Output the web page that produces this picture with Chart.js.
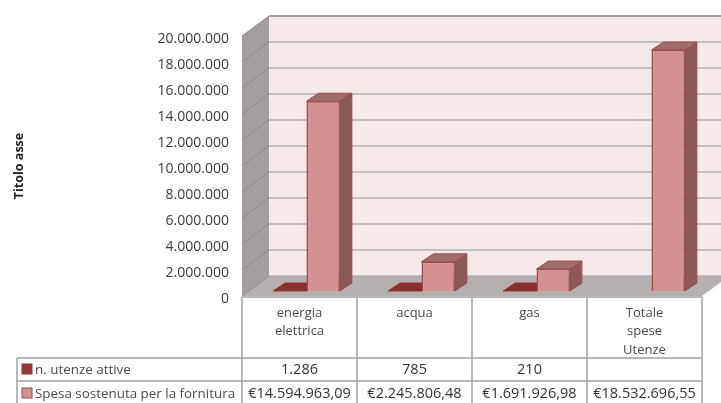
<!DOCTYPE html>
<html lang="it">
<head>
    <meta charset="UTF-8">
    <title>Spese utenze</title>
    <style>
        html, body { margin: 0; padding: 0; background: #fff; overflow: hidden; }
        canvas { display: block; filter: blur(0.4px); }
    </style>
</head>
<body>
<canvas id="chart" width="721" height="403"></canvas>
<script src="https://cdn.jsdelivr.net/npm/chart.js@4/dist/chart.umd.min.js"></script>
<script>
    'use strict';
    var categories = [['energia', 'elettrica'], ['acqua'], ['gas'], ['Totale', 'spese', 'Utenze']];
    var seriesNames = ['n. utenze attive', 'Spesa sostenuta per la fornitura'];
    var utenze = [1286, 785, 210, null];
    var spesa = [14594963.09, 2245806.48, 1691926.98, 18532696.55];
    var axisTitle = 'Titolo asse';
    var axisMax = 20000000;
    var axisStep = 2000000;

    var FONT = '"Open Sans", sans-serif';
    var DEPTH_X = 27, DEPTH_Y = -20;   // wall depth
    var BAR_X = 7, BAR_Y = -5;         // bars stand in the middle of the floor
    var SIDE_X = 12, SIDE_Y = -8;      // bar depth

    // it-IT number format, by hand
    function fmt(v, decimals) {
        var parts = v.toFixed(decimals).split('.');
        var s = parts[0].replace(/\B(?=(\d{3})+(?!\d))/g, '.');
        return parts[1] ? s + ',' + parts[1] : s;
    }

    function poly(ctx, pts, fill, stroke) {
        ctx.beginPath();
        ctx.moveTo(pts[0][0], pts[0][1]);
        for (var i = 1; i < pts.length; i++) ctx.lineTo(pts[i][0], pts[i][1]);
        ctx.closePath();
        ctx.fillStyle = fill;
        ctx.fill();
        if (stroke) {
            ctx.strokeStyle = stroke;
            ctx.lineWidth = 1;
            ctx.stroke();
        }
    }

    // walls, floor and gridlines
    var wallsPlugin = {
        id: 'walls',
        beforeDatasetsDraw: function (chart) {
            var ctx = chart.ctx, a = chart.chartArea, y = chart.scales.y;
            var l = a.left, r = a.right, t = a.top, b = a.bottom;
            ctx.save();
            poly(ctx, [[l + DEPTH_X, t + DEPTH_Y], [r + DEPTH_X, t + DEPTH_Y], [r + DEPTH_X, b + DEPTH_Y], [l + DEPTH_X, b + DEPTH_Y]], '#f5e9e9');
            poly(ctx, [[l, t], [l + DEPTH_X, t + DEPTH_Y], [l + DEPTH_X, b + DEPTH_Y], [l, b]], '#a39e9e');
            poly(ctx, [[l, b], [l + DEPTH_X, b + DEPTH_Y], [r + DEPTH_X, b + DEPTH_Y], [r, b]], '#b6afaf');
            for (var v = 0; v <= axisMax; v += axisStep) {
                var py = y.getPixelForValue(v);
                ctx.lineWidth = v === axisMax ? 2 : 1.5;
                ctx.strokeStyle = v === axisMax ? '#9c9c9c' : '#b4b2b2';
                ctx.beginPath();
                ctx.moveTo(l + DEPTH_X, py + DEPTH_Y);
                ctx.lineTo(r + DEPTH_X, py + DEPTH_Y);
                ctx.stroke();
                ctx.lineWidth = 1;
                ctx.strokeStyle = '#8f8a8a';
                ctx.beginPath();
                ctx.moveTo(l, py);
                ctx.lineTo(l + DEPTH_X, py + DEPTH_Y);
                ctx.stroke();
            }
            ctx.restore();

            // bar sides go under the faces, both shifted onto the floor
            ctx.save();
            ctx.translate(BAR_X, BAR_Y);
            chart.data.datasets.forEach(function (ds, di) {
                chart.getDatasetMeta(di).data.forEach(function (bar, i) {
                    if (ds.data[i] === null) return;
                    var x0 = bar.x - bar.width / 2, x1 = bar.x + bar.width / 2;
                    var top = bar.y, base = bar.base;
                    poly(ctx, [[x1, top], [x1 + SIDE_X, top + SIDE_Y], [x1 + SIDE_X, base + SIDE_Y], [x1, base]], ds.sideColor, ds.borderColor);
                    poly(ctx, [[x0, top], [x0 + SIDE_X, top + SIDE_Y], [x1 + SIDE_X, top + SIDE_Y], [x1, top]], ds.topColor, ds.borderColor);
                });
            });
        },
        afterDatasetsDraw: function (chart) {
            chart.ctx.restore();
        }
    };

    // data table under the chart
    var tablePlugin = {
        id: 'dataTable',
        afterDraw: function (chart) {
            var ctx = chart.ctx, xs = chart.scales.x, b = chart.chartArea.bottom;
            var n = categories.length, w = xs.width / n, left = xs.left;
            var rows = [358, 381, 404], tableLeft = 17, keyX = 22;
            ctx.save();
            ctx.strokeStyle = '#a2a2a2';
            ctx.lineWidth = 1.5;
            ctx.beginPath();
            for (var i = 0; i <= n; i++) {
                ctx.moveTo(left + i * w, b + 1);
                ctx.lineTo(left + i * w, 403);
            }
            ctx.moveTo(left, b + 1);
            ctx.lineTo(left + n * w, b + 1);
            rows.forEach(function (ry) {
                ctx.moveTo(tableLeft, ry);
                ctx.lineTo(left + n * w, ry);
            });
            ctx.moveTo(tableLeft, rows[0]);
            ctx.lineTo(tableLeft, 403);
            ctx.stroke();

            ctx.textAlign = 'center';
            ctx.textBaseline = 'middle';
            ctx.fillStyle = '#4a4a4a';
            ctx.font = '13px ' + FONT;
            categories.forEach(function (lines, c) {
                lines.forEach(function (line, k) {
                    ctx.fillText(line, left + (c + 0.5) * w, 313 + k * 18.5);
                });
            });
            ctx.fillStyle = '#333';
            ctx.font = '14.5px ' + FONT;
            utenze.forEach(function (v, c) {
                if (v !== null) ctx.fillText(fmt(v, 0), left + (c + 0.5) * w, 370);
            });
            spesa.forEach(function (v, c) {
                ctx.fillText('€' + fmt(v, 2), left + (c + 0.5) * w, 394);
            });

            // legend keys live in the row headers
            chart.data.datasets.forEach(function (ds, di) {
                var cy = di === 0 ? 369 : 393;
                ctx.fillStyle = ds.backgroundColor;
                ctx.strokeStyle = ds.borderColor;
                ctx.lineWidth = 1;
                ctx.fillRect(keyX, cy - 5, 10, 10);
                ctx.strokeRect(keyX, cy - 5, 10, 10);
                ctx.fillStyle = '#4a4a4a';
                ctx.textAlign = 'left';
                ctx.font = '13.4px ' + FONT;
                ctx.fillText(ds.label, 35, cy + 1);
            });
            ctx.restore();
        }
    };

    new Chart(document.getElementById('chart'), {
        type: 'bar',
        data: {
            labels: categories,
            datasets: [{
                label: seriesNames[0],
                data: utenze,
                backgroundColor: '#953735',
                borderColor: '#953735',
                sideColor: '#7e2e2c',
                topColor: '#872f2e',
                borderWidth: 1.5
            }, {
                label: seriesNames[1],
                data: spesa,
                backgroundColor: '#d39191',
                borderColor: '#a04a4a',
                sideColor: '#8a5a5a',
                topColor: '#a06c6c',
                borderWidth: 1.5
            }]
        },
        options: {
            responsive: false,
            animation: false,
            clip: false,
            categoryPercentage: 0.58,
            barPercentage: 1,
            layout: { padding: { left: 0, right: 19, top: 36, bottom: 107 } },
            plugins: { legend: { display: false }, tooltip: { enabled: false } },
            scales: {
                x: { display: false },
                y: {
                    min: 0,
                    max: axisMax,
                    afterFit: function (scale) { scale.width = 242; },
                    grid: { display: false },
                    border: { display: false },
                    ticks: {
                        stepSize: axisStep,
                        padding: 5,
                        labelOffset: 3,
                        color: '#3c3c3c',
                        font: { family: FONT, size: 14 },
                        callback: function (v) { return fmt(v, 0); }
                    },
                    title: {
                        display: true,
                        text: axisTitle,
                        color: '#222',
                        padding: { top: 12, bottom: 0 },
                        font: { family: FONT, size: 12.5, weight: 'bold' }
                    }
                }
            }
        },
        plugins: [wallsPlugin, tablePlugin]
    });
</script>
</body>
</html>
